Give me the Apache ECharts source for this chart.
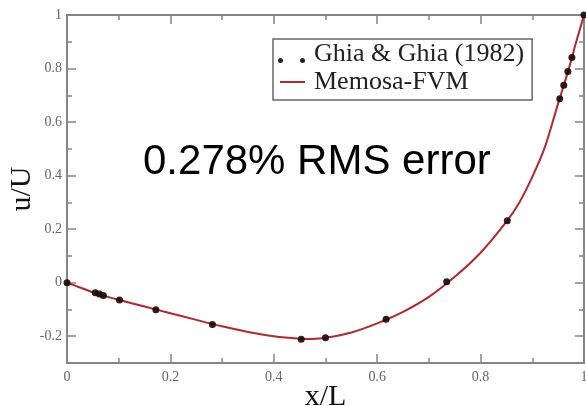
<!DOCTYPE html>
<html>
<head>
<meta charset="utf-8">
<script src="https://cdn.jsdelivr.net/npm/echarts@6/dist/echarts.min.js"></script>
<style>
  html, body { margin: 0; padding: 0; background: #fff; }
  #chart { width: 586px; height: 406px; }
</style>
</head>
<body>
<div id="chart"></div>
<script>
// Ghia & Ghia (1982) benchmark: u-velocity along the vertical centreline
const ghiaX = [0, 0.0547, 0.0625, 0.0703, 0.1016, 0.1719, 0.2813, 0.4531, 0.5, 0.6172, 0.7344, 0.8516, 0.9531, 0.9609, 0.9688, 0.9766, 1.0];
const ghiaU = [0, -0.0372, -0.0419, -0.0478, -0.0643, -0.1015, -0.1566, -0.2109, -0.2058, -0.1364, 0.0033, 0.2315, 0.6872, 0.7372, 0.7887, 0.8412, 1.0];

// Memosa-FVM solution profile
const fvmX = [0, 0.025, 0.05, 0.075, 0.1, 0.15, 0.2, 0.25, 0.3, 0.35, 0.4, 0.45, 0.475, 0.5, 0.55, 0.6, 0.65, 0.7, 0.75, 0.8, 0.85, 0.875, 0.9, 0.925, 0.95, 0.97, 0.985, 1.0];
const fvmU = [0, -0.018, -0.036, -0.051, -0.064, -0.089, -0.114, -0.139, -0.163, -0.184, -0.200, -0.209, -0.210, -0.206, -0.186, -0.152, -0.109, -0.053, 0.022, 0.112, 0.228, 0.300, 0.395, 0.51, 0.670, 0.795, 0.90, 1.0];

// tick positions
const yMajor = [-0.2, 0, 0.2, 0.4, 0.6, 0.8, 1];
const yMinor = [-0.3, -0.1, 0.1, 0.3, 0.5, 0.7, 0.9];

const annotation = '0.278% RMS error';

const frameColor = '#858585';
const labelColor = '#666';
const serif = '"Liberation Serif", "DejaVu Serif", serif';

const chart = echarts.init(document.getElementById('chart'));

function xAxisBase(pos, showLabels) {
  return {
    type: 'value', position: pos, min: 0, max: 1, interval: 0.2,
    axisLine: { show: true, onZero: false, lineStyle: { color: frameColor, width: 2 } },
    axisTick: { show: true, inside: true, length: 9, lineStyle: { color: frameColor, width: 1.5 } },
    minorTick: { show: true, splitNumber: 2, length: 5, lineStyle: { color: frameColor, width: 1.5 } },
    axisLabel: { show: showLabels, color: labelColor, fontFamily: serif, fontSize: 14, margin: 7 },
    splitLine: { show: false }, minorSplitLine: { show: false }
  };
}

function yAxisBase(pos, ticks, len, showLine, showLabels) {
  return {
    type: 'value', position: pos, min: -0.3, max: 1,
    axisLine: { show: showLine, onZero: false, lineStyle: { color: frameColor, width: 2 } },
    axisTick: { show: true, inside: true, length: len, customValues: ticks, lineStyle: { color: frameColor, width: 1.5 } },
    axisLabel: { show: showLabels, customValues: ticks, color: labelColor, fontFamily: serif, fontSize: 14, margin: 5 },
    splitLine: { show: false }
  };
}

const xBottom = xAxisBase('bottom', true);
xBottom.name = 'x/L';
xBottom.nameLocation = 'middle';
xBottom.nameGap = 19;
xBottom.nameMoveOverlap = false;
xBottom.nameTextStyle = { fontFamily: serif, fontSize: 30, color: '#111' };

const yLeft = yAxisBase('left', yMajor, 9, true, true);
yLeft.name = 'u/U';
yLeft.nameLocation = 'middle';
yLeft.nameGap = 30;
yLeft.nameMoveOverlap = false;
yLeft.nameTextStyle = { fontFamily: serif, fontSize: 30, color: '#111' };

const option = {
  backgroundColor: '#fff',
  animation: false,
  grid: { left: 67, right: 2, top: 15, bottom: 43, containLabel: false, outerBoundsMode: 'none' },
  xAxis: [xBottom, xAxisBase('top', false)],
  yAxis: [
    yLeft,
    yAxisBase('left', yMinor, 5, false, false),
    yAxisBase('right', yMajor, 9, true, false),
    yAxisBase('right', yMinor, 5, false, false)
  ],
  legend: {
    orient: 'vertical', left: 273, top: 39,
    padding: [1, 8, 4, 5], itemGap: 0,
    itemWidth: 27, itemHeight: 18,
    borderColor: '#666', borderWidth: 1.5, backgroundColor: '#fff',
    textStyle: { fontFamily: serif, fontSize: 26, color: '#222', lineHeight: 28, padding: [0, 0, 0, 4] },
    data: [
      { name: 'Ghia & Ghia (1982)', icon: 'path://M0,0M27,18M0,15.5a2.5,2.5 0 1,0 5,0a2.5,2.5 0 1,0 -5,0zM22,15.5a2.5,2.5 0 1,0 5,0a2.5,2.5 0 1,0 -5,0z' },
      { name: 'Memosa-FVM', icon: 'path://M0,0M27,18M2,8h25v2h-25z' }
    ]
  },
  graphic: [{
    type: 'text', left: 143, top: 141, z: 100,
    style: { text: annotation, fontFamily: '"Liberation Sans", Arial, sans-serif', fontSize: 42, fill: '#000' }
  }],
  series: [
    {
      name: 'Memosa-FVM', type: 'line', smooth: 0.3, showSymbol: false,
      data: fvmX.map((x, i) => [x, fvmU[i]]),
      lineStyle: { color: '#b3282a', width: 2 },
      itemStyle: { color: '#b3282a' },
      z: 3
    },
    {
      name: 'Ghia & Ghia (1982)', type: 'scatter', symbolSize: 7, clip: false,
      data: ghiaX.map((x, i) => [x, ghiaU[i]]),
      itemStyle: { color: '#1a0606', opacity: 0.9 },
      z: 4
    }
  ]
};

chart.setOption(option);
</script>
</body>
</html>
